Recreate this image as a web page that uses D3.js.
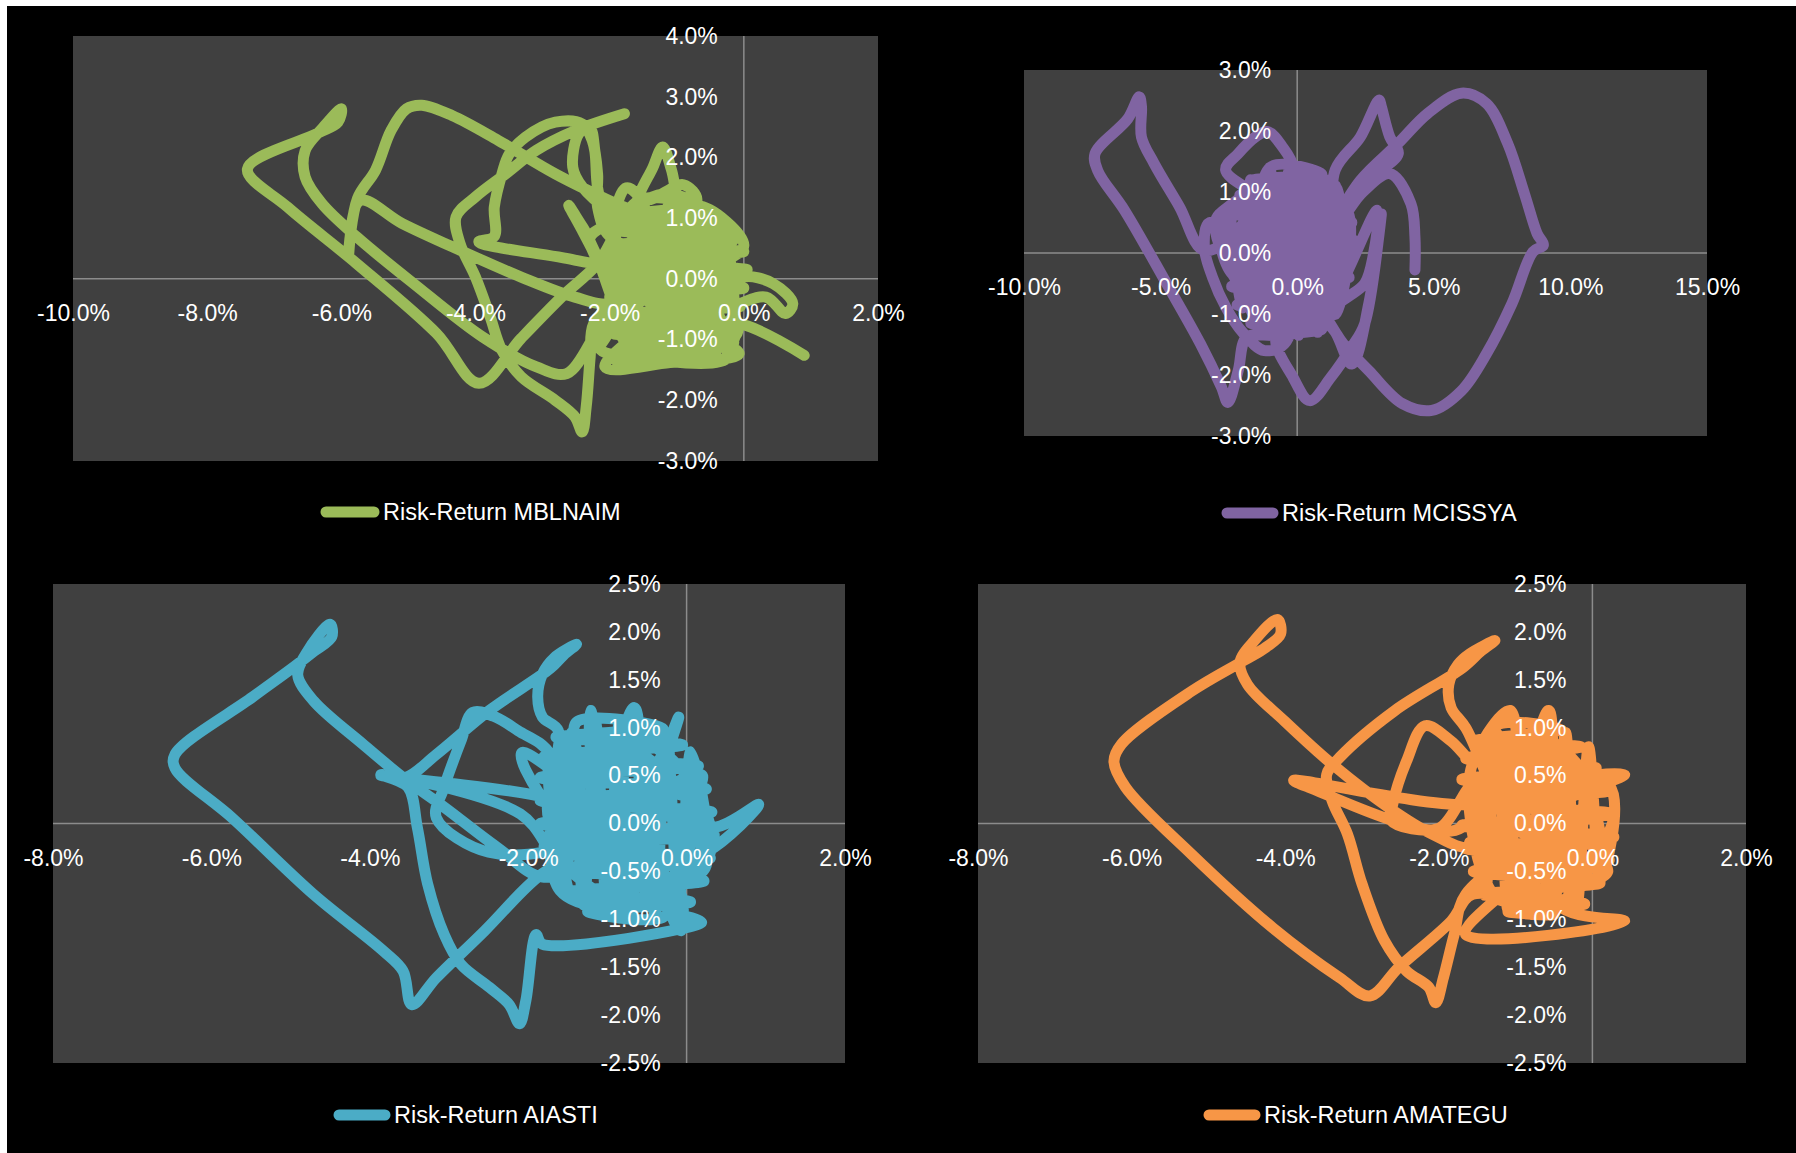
<!DOCTYPE html>
<html>
<head>
<meta charset="utf-8">
<script src="https://cdn.jsdelivr.net/npm/d3@7"></script>
<style>
  html, body { margin: 0; padding: 0; background: #ffffff; }
  svg { display: block; }
  text { font-family: "Liberation Sans", Arial, sans-serif; fill: #ffffff; }
</style>
</head>
<body>
<script>
// Risk (x, %) versus return (y, %) paths for four funds.
const mblnaim = [
  [-1.78, 2.72], [-2.52, 2.44], [-3.09, 2.12], [-3.55, 1.73], [-4.00, 1.35], [-4.29, 1.02], [-4.23, 0.58],
  [-4.00, 0.03], [-3.78, -0.63], [-3.61, -1.17], [-3.32, -1.61], [-2.81, -2.00], [-2.52, -2.27], [-2.41, -2.52],
  [-2.35, -2.11], [-2.29, -1.28], [-2.24, -0.74],
  [-1.85, -0.30], [-1.20, 0.25], [-0.45, 0.65], [-1.00, 1.05], [-1.65, 0.55], [-0.90, -0.35], [-0.25, 0.05],
  [-1.40, 0.85], [-1.85, -0.90], [-1.10, -1.30], [-0.50, -0.70], [-1.30, -0.05],
  [-1.95, -0.52], [-2.18, -0.85], [-2.64, -1.56], [-3.09, -1.45], [-3.89, -0.96], [-4.92, -0.08], [-5.77, 0.69],
  [-6.29, 1.24], [-6.54, 1.68], [-6.54, 2.11], [-6.29, 2.47], [-6.00, 2.80], [-6.05, 2.58], [-6.35, 2.40],
  [-7.40, 1.81], [-6.80, 1.18], [-5.77, 0.25], [-4.58, -0.90], [-3.95, -1.72], [-3.32, -0.98], [-2.69, -0.27],
  [-2.18, 0.25],
  [-1.55, 1.30], [-0.75, 1.20], [-1.75, 1.05], [-0.35, 0.95], [-1.90, 0.80], [-0.10, 0.70], [-1.95, 0.55],
  [0.00, 0.45], [-2.00, 0.30], [0.05, 0.15], [-1.95, 0.00], [0.00, -0.15], [-2.00, -0.30], [-0.05, -0.45],
  [-1.95, -0.60], [-0.10, -0.75], [-1.95, -0.90], [-0.15, -1.05], [-1.90, -1.20], [-0.25, -1.30],
  [-1.50, 0.60], [-0.70, 0.95], [-0.20, 0.55], [-1.10, -0.10], [-1.75, -0.60], [-0.80, -1.00], [-0.15, -0.55],
  [-1.00, 0.45], [-1.60, 1.10],
  [-1.35, 1.85], [-1.21, 2.17], [-1.08, 1.80], [-0.95, 1.25], [-0.60, 0.90], [-0.10, 0.75], [-0.55, 0.30],
  [-1.95, -0.41], [-2.52, -0.30], [-3.32, 0.03], [-4.23, 0.47], [-5.09, 0.91], [-5.72, 1.29], [-5.89, 0.42],
  [-5.76, 1.32], [-5.49, 1.79], [-5.26, 2.44], [-5.03, 2.80], [-4.80, 2.86], [-4.35, 2.69], [-3.66, 2.28],
  [-2.81, 1.73], [-2.01, 1.29], [-1.49, 1.02],
  [-1.85, 1.00], [-1.70, -1.35], [-1.50, 1.25], [-1.30, -1.35], [-1.10, 1.35], [-0.90, -1.30], [-0.70, 1.15],
  [-0.50, -1.25], [-0.30, 0.90], [-0.15, -1.00],
  [-0.80, 0.55], [-0.30, -0.20], [-1.30, -0.70], [-1.90, -1.35], [-1.00, -1.35], [-0.35, -1.10], [-0.95, -0.60],
  [-1.55, 0.05],
  [-2.52, 0.31], [-3.95, 0.61], [-3.72, 0.70], [-3.72, 1.18], [-3.60, 1.75], [-3.50, 2.05], [-3.26, 2.33],
  [-2.81, 2.58], [-2.41, 2.55], [-2.26, 2.28], [-2.18, 1.73], [-2.18, 1.18], [-2.00, 0.70],
  [-1.30, 0.40], [-0.45, 0.25], [0.00, 0.55], [-0.70, 1.20], [-1.45, 0.30], [-0.90, -0.85],
  [-0.20, -0.20], [0.00, 0.03], [0.44, -0.08], [0.73, -0.41], [0.62, -0.57], [0.33, -0.30], [-0.40, -0.45],
  [-1.20, 0.70], [-2.01, 1.13], [-2.41, 1.52], [-2.55, 1.84], [-2.46, 2.39], [-2.30, 2.50], [-2.22, 2.10],
  [-2.18, 1.50], [-2.05, 0.95],
  [-1.40, -0.40], [-0.60, -0.95], [-1.60, -1.00],
  [-2.18, 0.31], [-2.41, 0.80], [-2.61, 1.21], [-2.40, 0.85], [-1.90, 0.00],
  [-1.00, 0.60], [-0.30, 0.95], [-0.85, 0.15], [-1.70, -0.30], [-1.25, -1.05],
  [-2.30, 0.65], [-2.00, 0.95], [-1.75, 1.50], [-1.45, 1.30], [-0.90, 1.55], [-0.70, 1.30], [-1.20, 0.90],
  [-2.05, -0.95], [-2.15, -1.15], [-1.80, -1.25], [-1.40, -0.90],
  [-0.50, 1.00], [-1.20, 1.40], [-1.80, 0.90], [-0.60, 0.10], [-0.10, -0.90], [-1.50, -1.20], [-1.90, 0.30],
  [-1.30, -0.45], [-2.07, -1.45], [-1.10, -1.38], [-0.07, -1.23], [-0.60, -0.85], [-0.07, -0.74], [0.90, -1.26]
];

const mcissya = [
  [4.31, -0.28], [4.31, 0.26], [4.16, 0.81], [3.39, 1.30], [2.40, 1.00], [1.20, 0.40], [0.20, 0.90],
  [-1.20, 0.30], [-0.50, -0.60], [1.00, -0.20], [1.40, 1.10], [0.00, 1.20],
  [-1.50, 0.60], [-3.39, 0.04], [-4.31, 0.76], [-5.24, 1.47], [-5.70, 1.90], [-5.70, 2.40], [-5.78, 2.56],
  [-6.20, 2.20], [-7.40, 1.63], [-7.30, 1.35], [-6.32, 0.70], [-4.78, -0.50], [-3.54, -1.49], [-2.77, -2.20],
  [-2.54, -2.45], [-2.16, -1.93], [-1.85, -1.38],
  [-0.80, -1.35], [0.90, -1.25], [-1.70, -1.15], [1.40, -1.00], [-2.20, -0.85], [1.70, -0.70], [-2.40, -0.55],
  [1.90, -0.40], [-2.50, -0.25], [2.00, -0.10], [-2.60, 0.05], [2.10, 0.20], [-2.70, 0.35], [2.00, 0.50],
  [-2.50, 0.65], [1.80, 0.80], [-2.10, 0.95], [1.40, 1.10], [-1.60, 1.20], [0.90, 1.30], [-1.00, 1.40],
  [-1.00, -0.90], [0.50, -1.20], [1.50, -0.60], [0.60, 0.30], [-1.60, 0.90], [-2.80, 0.30], [-2.20, -0.40],
  [-0.60, 0.20], [0.90, 0.80], [1.60, 0.00], [0.20, -0.90], [-1.40, -1.10], [-2.00, -0.10], [-1.00, 0.70],
  [-2.62, 1.36], [-2.16, 1.63], [-1.54, 1.90], [-1.08, 1.99], [-0.54, 1.74], [-0.15, 1.41], [-0.40, 0.60],
  [0.80, -0.40], [-0.30, -1.00], [-1.80, -0.70], [-3.00, 0.50], [-2.40, 0.80], [-0.80, 1.20], [0.60, 1.10],
  [1.20, 0.20],
  [1.39, 1.36], [2.31, 1.90], [3.00, 2.51], [3.08, 2.40], [3.39, 1.90], [3.70, 1.63],
  [2.60, 1.20], [1.70, 0.60], [0.30, -0.30], [-1.20, -0.40], [-0.90, 0.40], [0.40, 0.50], [1.10, -0.80],
  [2.93, 0.70], [2.77, -0.07], [2.47, -0.50], [1.85, -0.72], [0.50, -1.10], [-0.77, -1.38], [-0.15, -2.04],
  [0.46, -2.42], [1.23, -2.04], [2.00, -1.54], [2.47, -1.16], [3.08, 0.64], [2.62, -0.83], [2.00, -1.82],
  [1.40, -1.30], [0.20, -0.50],
  [-2.30, 0.80], [-2.00, -0.90], [-1.70, 1.20], [-1.35, -1.20], [-1.00, 1.40], [-0.65, -1.35], [-0.30, 1.35],
  [0.05, -1.35], [0.40, 1.30], [0.75, -1.30], [1.10, 1.15], [1.45, -1.00], [1.80, 0.70],
  [-1.00, 0.00], [-3.20, 0.50], [-3.40, 0.10], [-3.10, -0.40], [-2.60, -0.90], [-2.00, -1.30], [-1.20, -1.60],
  [-0.40, -1.45], [0.00, 0.80], [-2.00, 0.40], [-1.20, -0.80], [0.80, -1.00],
  [1.50, 0.50], [-0.40, 1.00], [-2.40, 0.10], [-0.80, -1.20], [1.00, 0.20],
  [1.39, 0.54], [2.31, 1.19], [3.70, 1.80], [4.78, 2.29], [6.01, 2.62], [6.93, 2.45], [7.70, 1.80],
  [8.32, 0.97], [8.78, 0.32], [9.01, 0.13], [8.63, 0.02], [7.86, -0.83], [6.93, -1.65], [6.01, -2.26],
  [4.93, -2.58], [3.85, -2.47], [2.62, -1.93], [1.69, -1.49], [1.08, -1.16], [0.10, -1.25], [-0.90, -0.70],
  [-0.20, 0.30]
];

const aiasti = [
  [-0.60, 0.10], [-1.30, -0.40], [-1.82, -0.56], [-2.39, -0.25], [-3.06, 0.17], [-3.58, 0.48], [-4.09, 0.83],
  [-4.71, 1.28], [-4.91, 1.55], [-4.80, 1.78], [-4.50, 2.08], [-4.48, 1.95], [-4.70, 1.80], [-4.95, 1.64],
  [-5.48, 1.32], [-6.46, 0.72], [-6.46, 0.58], [-5.74, 0.06], [-4.71, -0.74], [-3.83, -1.33], [-3.58, -1.54],
  [-3.47, -1.89], [-3.16, -1.61], [-2.55, -1.12], [-1.88, -0.56],
  [-1.20, -0.20], [-0.40, 0.40], [0.20, 0.10], [-0.60, -0.60], [-1.50, 0.30], [-0.90, 0.90], [-0.10, 0.60],
  [0.30, -0.30], [-0.80, -0.80], [-1.60, -0.40],
  [-2.10, 0.10], [-3.86, 0.51], [-3.52, 0.38], [-3.40, -0.04], [-3.27, -0.63], [-3.06, -1.16], [-2.85, -1.47],
  [-2.49, -1.71], [-2.24, -1.89], [-2.11, -2.09], [-2.03, -1.85], [-1.90, -1.16], [-1.82, -1.26], [0.19, -1.03],
  [-0.18, -0.96], [-0.07, -1.12], [-0.07, -0.74],
  [-0.30, -0.98], [-1.25, -0.92], [0.05, -0.82], [-1.55, -0.72], [0.22, -0.60], [-1.70, -0.48], [0.30, -0.36],
  [-1.80, -0.24], [0.35, -0.12], [-1.85, 0.00], [0.32, 0.12], [-1.85, 0.24], [0.25, 0.36], [-1.85, 0.48],
  [0.15, 0.60], [-1.80, 0.70], [-0.05, 0.82], [-1.65, 0.90], [-0.30, 1.00], [-1.40, 1.05],
  [-1.00, 0.20], [-0.20, 0.90], [-1.30, 0.70], [-0.50, -0.20], [0.20, 0.50], [-1.70, 0.00],
  [-1.62, 0.97], [-1.82, 1.11], [-1.88, 1.32], [-1.82, 1.56], [-1.67, 1.73], [-1.39, 1.87], [-1.55, 1.76],
  [-1.72, 1.62], [-2.49, 1.18], [-3.16, 0.72], [-3.55, 0.48], [-3.86, 0.50], [-1.77, 0.27],
  [-0.90, 0.00], [-0.30, -0.70], [0.10, 0.20], [-1.10, 0.50], [-1.21, 1.18], [-1.00, 0.60], [-0.66, 1.21],
  [-0.50, 0.40], [-0.10, 1.11], [-0.23, 0.76], [-0.40, 0.20], [0.34, -0.04], [0.91, 0.20], [0.25, -0.30],
  [-0.70, -0.50], [-1.40, -0.80],
  [-1.72, 0.72], [-2.13, 0.97], [-2.44, 1.12], [-2.70, 1.16], [-2.85, 0.86], [-3.06, 0.38], [-3.16, 0.06],
  [-2.50, -0.30], [-1.60, -0.20],
  [-1.75, 0.55], [-1.60, -0.60], [-1.45, 0.95], [-1.30, -0.85], [-1.15, 1.05], [-1.00, -0.95], [-0.85, 1.05],
  [-0.70, -0.98], [-0.55, 1.00], [-0.40, -0.95], [-0.25, 0.95], [-0.10, -0.85], [0.05, 0.75], [0.20, -0.50],
  [-2.08, 0.74], [-1.85, 0.30], [-1.00, -0.40], [-0.20, 0.30], [-1.40, 0.90], [-1.60, -0.70], [-0.30, -0.80],
  [0.20, -0.10], [-0.80, 0.80], [-1.50, 0.10], [-0.60, 0.30]
];

const amategu = [
  [-0.80, 0.20], [-1.56, -0.25], [-2.09, -0.11], [-2.66, 0.17], [-3.39, 0.62], [-4.01, 1.07], [-4.49, 1.45],
  [-4.59, 1.68], [-4.40, 1.91], [-4.10, 2.13], [-4.06, 1.98], [-4.25, 1.84], [-4.54, 1.70], [-5.22, 1.38],
  [-6.13, 0.83], [-6.23, 0.65], [-6.08, 0.38], [-5.22, -0.32], [-4.16, -1.09], [-3.29, -1.61], [-2.90, -1.80],
  [-2.52, -1.50], [-1.84, -1.02], [-1.56, -0.74],
  [-0.50, -0.95], [-1.10, -0.92], [-0.10, -0.84], [-1.40, -0.74], [0.10, -0.62], [-1.55, -0.50], [0.22, -0.38],
  [-1.65, -0.26], [0.28, -0.14], [-1.70, -0.02], [0.28, 0.10], [-1.70, 0.22], [0.20, 0.34], [-1.70, 0.46],
  [0.05, 0.58], [-1.65, 0.68], [-0.15, 0.80], [-1.55, 0.86], [-0.40, 0.98], [-1.30, 1.00],
  [-0.90, -0.30], [-0.20, 0.50], [-1.10, 0.80], [-1.50, 0.10], [-0.60, -0.70], [0.10, -0.20], [-0.50, 0.70],
  [-1.40, -0.50], [-0.80, 0.40],
  [-1.56, 0.20], [-3.89, 0.45], [-3.70, 0.38], [-1.84, -0.08],
  [-1.10, 0.30], [-0.30, -0.40], [-1.20, -0.80], [-1.60, 0.50], [-1.07, 1.18], [-0.90, 0.50], [-0.57, 1.18],
  [-0.40, 0.30], [0.10, 0.40], [0.42, 0.51], [-0.20, 0.45], [-0.90, -0.10],
  [-1.65, 1.00], [-1.84, 1.21], [-1.87, 1.45], [-1.75, 1.66], [-1.60, 1.77], [-1.27, 1.91], [-1.45, 1.80],
  [-1.70, 1.62], [-2.57, 1.18], [-3.29, 0.69], [-3.46, 0.51], [-3.39, 0.24], [-3.19, -0.11], [-3.00, -0.63],
  [-2.71, -1.22], [-2.42, -1.54], [-2.13, -1.71], [-2.04, -1.87], [-1.94, -1.61], [-1.80, -1.16], [-1.65, -0.74],
  [-0.70, -0.20], [0.20, 0.10], [0.27, 0.06], [-0.50, -0.85], [-1.30, -0.20], [-0.40, 0.80], [-1.50, 0.70],
  [-1.56, 0.65], [-1.84, 0.86], [-2.18, 1.02], [-2.42, 0.65], [-2.60, 0.20], [-2.62, 0.03], [-2.00, -0.05],
  [-1.55, 0.40], [-1.40, -0.75], [-1.25, 0.95], [-1.10, -0.90], [-0.95, 1.00], [-0.80, -0.95], [-0.65, 1.00],
  [-0.50, -0.95], [-0.35, 0.95], [-0.20, -0.85], [-0.05, 0.80], [0.10, -0.60], [0.22, 0.40],
  [-1.30, 0.50], [-0.30, 0.00], [-1.00, -0.60],
  [-1.65, -1.16], [0.42, -1.02], [-0.40, -0.88],
  [-1.40, 0.20], [-0.70, 0.90], [0.00, 0.30], [-0.90, -0.40], [-1.60, -0.20], [-0.40, -0.60], [0.20, -0.50],
  [-1.20, 0.60], [-0.60, 0.00]
];

// Axis tick values (percent) for each chart.
const xTicksA = [-10, -8, -6, -4, -2, 0, 2];
const yTicksA = [-3, -2, -1, 0, 1, 2, 3, 4];
const xTicksB = [-10, -5, 0, 5, 10, 15];
const yTicksB = [-3, -2, -1, 0, 1, 2, 3];
const xTicksC = [-8, -6, -4, -2, 0, 2];
const yTicksC = [-2.5, -2, -1.5, -1, -0.5, 0, 0.5, 1, 1.5, 2, 2.5];

const seriesNames = ["Risk-Return MBLNAIM", "Risk-Return MCISSYA", "Risk-Return AIASTI", "Risk-Return AMATEGU"];
const seriesColors = ["#9bbb59", "#8064a2", "#4bacc6", "#f79646"];

const charts = [
  { data: mblnaim, xt: xTicksA, yt: yTicksA, box: [73, 36, 878, 461], legend: [321, 379, 512] },
  { data: mcissya, xt: xTicksB, yt: yTicksB, box: [1024, 70, 1707, 436], legend: [1222, 1278, 513] },
  { data: aiasti,  xt: xTicksC, yt: yTicksC, box: [53, 584, 845, 1063], legend: [334, 390, 1115] },
  { data: amategu, xt: xTicksC, yt: yTicksC, box: [978, 584, 1746, 1063], legend: [1204, 1260, 1115] }
];

const W = 1796, H = 1153;
const svg = d3.select("body").append("svg").attr("width", W).attr("height", H);

svg.append("rect").attr("x", 7).attr("y", 6).attr("width", W - 7).attr("height", H - 6).attr("fill", "#000000");

// percent labels with a plain hyphen for negatives
const fmt = v => v.toFixed(1) + "%";

charts.forEach((c, i) => {
  const [x0, y0, x1, y1] = c.box;
  const x = d3.scaleLinear().domain(d3.extent(c.xt)).range([x0, x1]);
  const y = d3.scaleLinear().domain(d3.extent(c.yt)).range([y1, y0]);
  const g = svg.append("g");

  g.append("rect").attr("x", x0).attr("y", y0).attr("width", x1 - x0).attr("height", y1 - y0)
    .attr("fill", "#404040");

  // zero axes
  g.append("line").attr("x1", x0).attr("x2", x1).attr("y1", y(0)).attr("y2", y(0))
    .attr("stroke", "#8c8c8c").attr("stroke-width", 1.5);
  g.append("line").attr("x1", x(0)).attr("x2", x(0)).attr("y1", y0).attr("y2", y1)
    .attr("stroke", "#8c8c8c").attr("stroke-width", 1.5);

  const line = d3.line().x(d => x(d[0])).y(d => y(d[1])).curve(d3.curveCatmullRom.alpha(0.5));
  g.append("path").datum(c.data).attr("d", line)
    .attr("fill", "none").attr("stroke", seriesColors[i]).attr("stroke-width", 11)
    .attr("stroke-linecap", "round").attr("stroke-linejoin", "round");

  const xAxis = g.append("g").attr("transform", `translate(0,${y(0)})`)
    .call(d3.axisBottom(x).tickValues(c.xt).tickFormat(fmt).tickSize(0).tickPadding(26));
  const yAxis = g.append("g").attr("transform", `translate(${x(0)},0)`)
    .call(d3.axisLeft(y).tickValues(c.yt).tickFormat(fmt).tickSize(0).tickPadding(26));
  [xAxis, yAxis].forEach(a => {
    a.select(".domain").remove();
    a.selectAll("text").attr("font-size", 23).attr("fill", "#ffffff")
      .attr("font-family", "'Liberation Sans', Arial, sans-serif");
  });

  const [lx0, lx1, ly] = c.legend;
  g.append("line").attr("x1", lx0 + 5).attr("x2", lx1 - 5).attr("y1", ly).attr("y2", ly)
    .attr("stroke", seriesColors[i]).attr("stroke-width", 11).attr("stroke-linecap", "round");
  g.append("text").attr("x", lx1 + 4).attr("y", ly).attr("dy", "0.36em")
    .attr("font-size", 23.5).text(seriesNames[i]);
});
</script>
</body>
</html>
